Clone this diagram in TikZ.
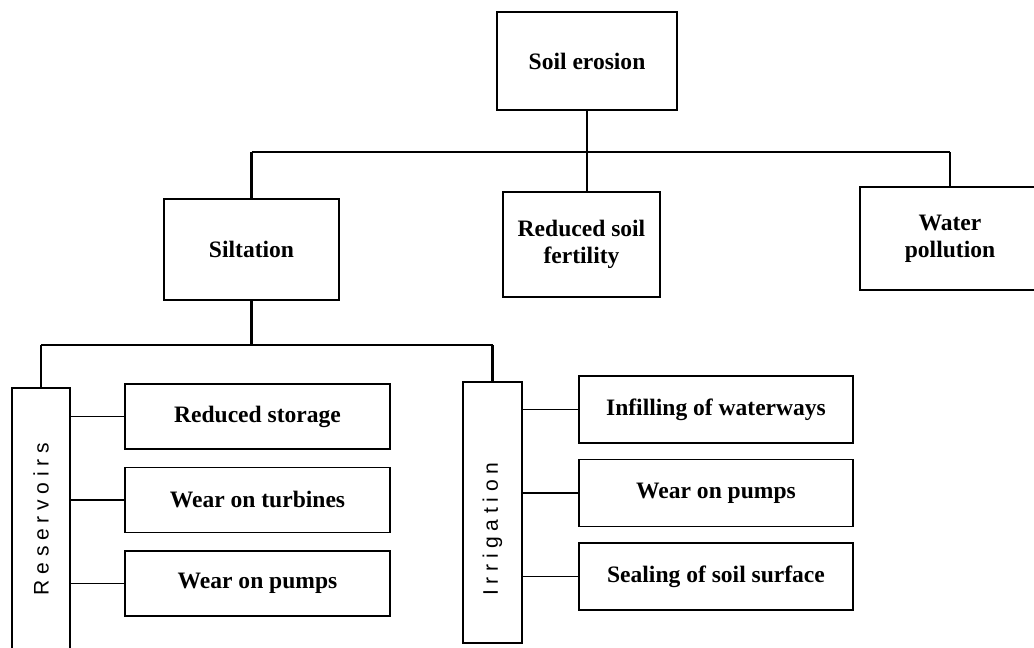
\documentclass[tikz,border=0pt]{standalone}
\usepackage{fontspec}
\usepackage{graphicx}
\setmainfont{Liberation Serif}
\setsansfont{Liberation Sans}
\usetikzlibrary{positioning}
\begin{document}
\begin{tikzpicture}[
  x=0.02cm, y=-0.02cm,
  node distance=1.67cm,
  box/.style={draw, line width=1pt, inner sep=2pt, align=center, font=\bfseries\fontsize{13.4}{15.5}\selectfont},
  effect/.style={box, minimum width=5.3cm, minimum height=1.3cm},
  effectb/.style={box, minimum width=5.48cm, minimum height=1.34cm},
  use/.style={draw, line width=1pt, inner sep=0pt, font=\sffamily\fontsize{12}{14}\selectfont\addfontfeature{LetterSpace=27}},
  link/.style={line width=0.6pt},
  trunk/.style={line width=1.4pt}
]
\useasboundingbox (0,0) rectangle (1034,647);
\clip (0,0) rectangle (1034,647);

\node[box, minimum width=3.6cm, minimum height=1.96cm] (soil) at (587,61) {Soil erosion};
\node[box, minimum width=3.5cm, minimum height=2.02cm] (silt) at (251.5,249.5) {Siltation};
\node[box, minimum width=3.14cm, minimum height=2.1cm] (fert) at (581.5,244.5) {Reduced soil\\fertility};
\node[box, minimum width=3.6cm, minimum height=2.06cm] (water) at (950,238.5) {Water\\pollution};

\node[use, minimum width=1.16cm, minimum height=5.24cm] (res) at (41,519) {\rotatebox{90}{Reservoirs}};
\node[use, minimum width=1.18cm, minimum height=5.22cm] (irr) at (492.5,512.5) {\rotatebox{90}{Irrigation\hspace{19pt}}};

\node[effect] (sto) at (257.5,416.5) {Reduced storage};
\node[effect] (tur) [below of=sto] {Wear on turbines};
\node[effect] (pmp) [below of=tur] {Wear on pumps};
\node[effectb] (inf) at (716,409.5) {Infilling of waterways};
\node[effectb] (ipm) [below of=inf] {Wear on pumps};
\node[effectb] (sea) [below of=ipm] {Sealing of soil surface};

\coordinate (top) at (590,152);
\coordinate (low) at (250,345);

\draw[trunk] (soil.south) -- (soil.south |- fert.north);
\draw[link] (silt.north |- top) -- (water.north |- top);
\draw[trunk] (silt.north) -- (silt.north |- top);
\draw[trunk] (water.north) -- (water.north |- top);
\draw[trunk] (silt.south) -- (silt.south |- low);
\draw[link] (res.north |- low) -- (irr.north |- low);
\draw[trunk] (res.north) -- (res.north |- low);
\draw[trunk] (irr.north) -- (irr.north |- low);
\foreach \e in {sto,tur,pmp} \draw[link] (res.east |- \e.west) -- (\e.west);
\foreach \e in {inf,ipm,sea} \draw[link] (irr.east |- \e.west) -- (\e.west);
\end{tikzpicture}
\end{document}
